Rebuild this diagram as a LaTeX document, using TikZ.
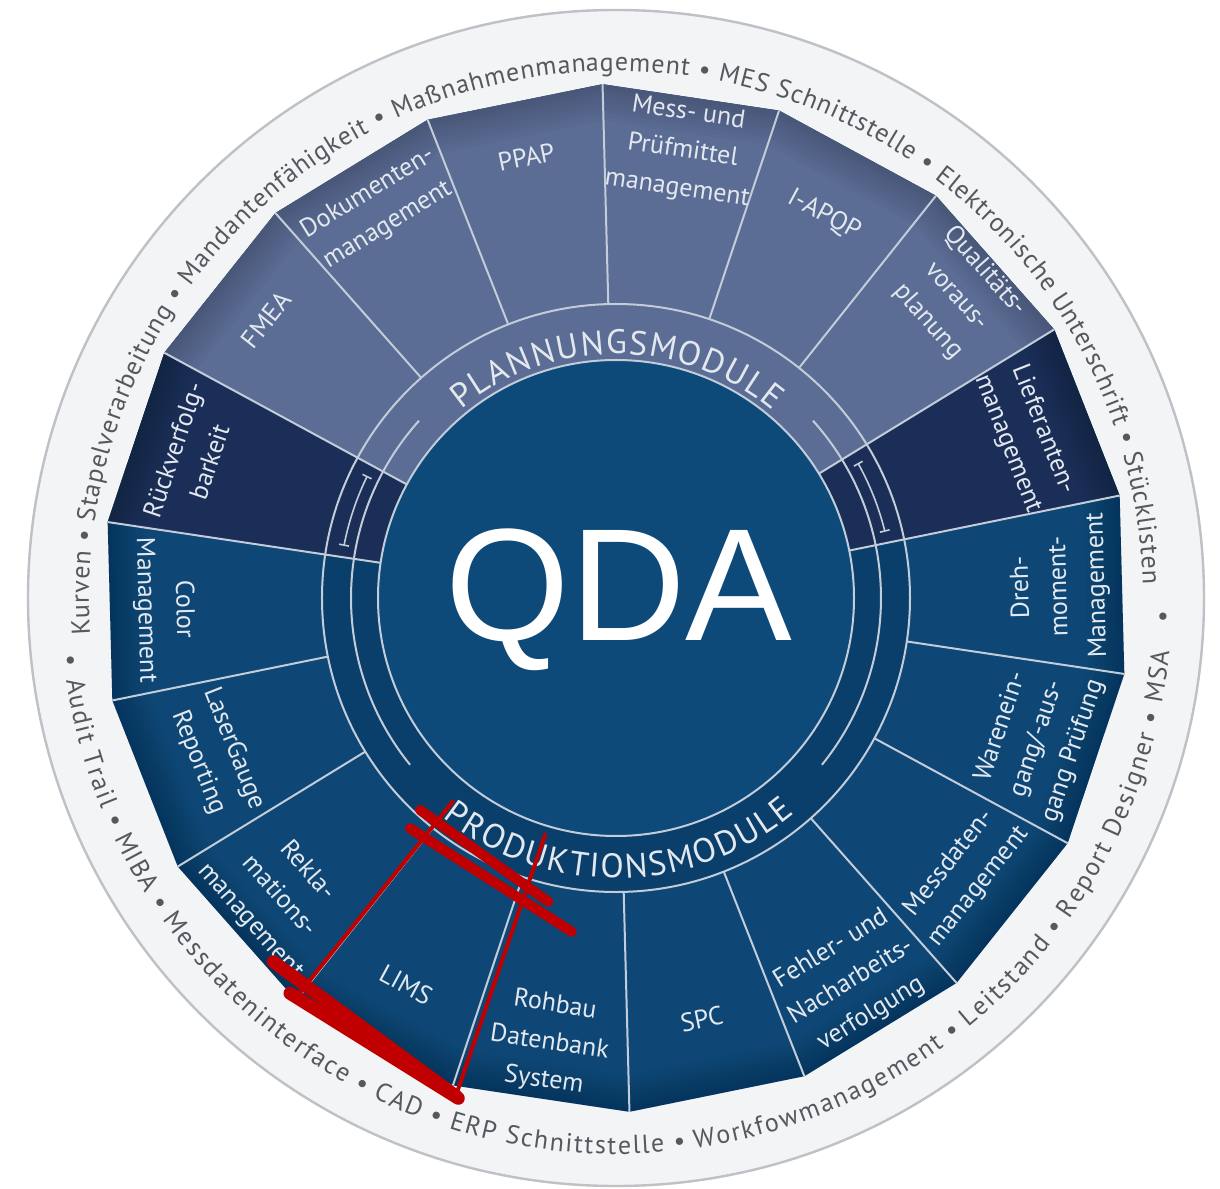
\documentclass[tikz,border=0pt]{standalone}
\usepackage{fontspec}
\setmainfont{PT Sans}
\newfontfamily\qdafont{Liberation Sans}
\usetikzlibrary{decorations.text}
\definecolor{planblue}{HTML}{5B6D94}
\definecolor{navyblue}{HTML}{1B2E57}
\definecolor{prodblue}{HTML}{0E4775}
\definecolor{bandblue}{HTML}{0B3F6B}
\definecolor{coreblue}{HTML}{0D4A79}
\definecolor{linegray}{HTML}{C3CCD9}
\definecolor{labelcol}{HTML}{E3E8EF}
\definecolor{ringtext}{HTML}{55595F}
\definecolor{ringfill}{HTML}{F3F4F6}
\definecolor{ringline}{HTML}{BEC1C6}
\definecolor{markred}{HTML}{C00000}
\newcommand{\labfont}{\fontsize{13}{19}\selectfont}
\newcommand{\ringfont}{\fontsize{13}{15}\selectfont}
\newcommand{\modfont}{\fontsize{17}{19}\selectfont}
\newcommand{\rb}{\hspace{4pt}•\hspace{4pt}}
\begin{document}
\begin{tikzpicture}[x=0.5pt,y=0.5pt,
  seglabel/.style={text=labelcol, font=\labfont, align=center, inner sep=0pt},
  sepline/.style={draw=linegray, line width=1pt},
  ringdot/.style={text=ringtext, font=\ringfont, inner sep=0pt},
  redthin/.style={draw=markred, line cap=round, line width=2pt},
  redthick/.style={draw=markred, line cap=round, line width=5pt},
  redheavy/.style={draw=markred, line cap=round, line width=6.5pt}]
\useasboundingbox (-616,-590) rectangle (604,598);
\fill[white] (-616,-590) rectangle (604,598);
% outer ring
\fill[ringfill] (0,0) circle[radius=589];
\draw[ringline, line width=1.2pt] (0,0) circle[radius=588];
% segments
\fill[prodblue] (11.5:514) \foreach \k in {1,...,17} { -- ({11.5+20*\k}:514) } -- cycle;
\fill[planblue] (0,0) -- (31.5:514) -- (51.5:514) -- (71.5:514) -- (91.5:514) -- (111.5:514) -- (131.5:514) -- (151.5:514) -- cycle;
\fill[navyblue] (0,0) -- (11.5:514) -- (31.5:514) -- cycle;
\fill[navyblue] (0,0) -- (151.5:514) -- (171.5:514) -- cycle;
% soft inner edge shading of the polygon
\begin{scope}
\clip (11.5:514) \foreach \k in {1,...,17} { -- ({11.5+20*\k}:514) } -- cycle;
\foreach \w in {36,32,...,4} {
  \draw[black, opacity=0.018, line width=\w pt, line join=round] (11.5:514) \foreach \k in {1,...,17} { -- ({11.5+20*\k}:514) } -- cycle;
}
\end{scope}
% production band
\fill[bandblue] (171.5:238) -- (171.5:294) arc[start angle=171.5, end angle=371.5, radius=294] -- (11.5:238) arc[start angle=11.5, end angle=-188.5, radius=238] -- cycle;
% boundary lines
\foreach \a in {11.5,31.5,...,351.5} { \draw[sepline] (\a:294) -- (\a:514); }
\foreach \a in {11.5,31.5,151.5,171.5} { \draw[sepline] (\a:238) -- (\a:294); }
\draw[sepline] (0,0) circle[radius=294];
% core
\fill[coreblue] (0,0) circle[radius=238];
\draw[sepline] (0,0) circle[radius=238];
% inner arcs
\draw[sepline] (42:265) arc[start angle=42, end angle=-39, radius=265];
\draw[sepline] (138:265) arc[start angle=138, end angle=219, radius=265];
% I-beams
\draw[sepline, line width=0.8pt] (14:277) arc[start angle=14, end angle=29, radius=277];
\draw[sepline, line width=0.8pt] (14:272) -- (14:282);
\draw[sepline, line width=0.8pt] (29:272) -- (29:282);
\draw[sepline, line width=0.8pt] (154:277) arc[start angle=154, end angle=169, radius=277];
\draw[sepline, line width=0.8pt] (154:272) -- (154:282);
\draw[sepline, line width=0.8pt] (169:272) -- (169:282);
% module texts
\path[decorate, decoration={text along path, text={|\modfont|PLANNUNGSMODULE}, text color=labelcol, text align={fit to path}}] (129.4:244) arc[start angle=129.4, end angle=50.1, radius=244];
\path[decorate, decoration={text along path, text={|\modfont|PRODUKTIONSMODULE}, text color=labelcol, text align={fit to path}}] (231.7:280) arc[start angle=231.7, end angle=309.7, radius=280];
% QDA
\node[text=white, font={\qdafont\fontsize{80}{80}\selectfont}, anchor=base, inner sep=0pt] (qda) at (3,-43) {QDA};
% ring texts
\path[decorate, decoration={text along path, text={|\ringfont|Kurven{\rb}Stapelverarbeitung{\rb}Mandantenfähigkeit{\rb}Maßnahmenmanagement{\rb}MES Schnittstelle{\rb}Elektronische Unterschrift{\rb}Stücklisten}, text color=ringtext, text align={fit to path}}] (184:527) arc[start angle=184, end angle=1.5, radius=527];
\path[decorate, decoration={text along path, text={|\ringfont|Audit Trail{\rb}MIBA{\rb}Messdateninterface{\rb}CAD{\rb}ERP Schnittstelle{\rb}Workfowmanagement{\rb}Leitstand{\rb}Report Designer{\rb}MSA}, text color=ringtext, text align={fit to path}}] (188.5:556) arc[start angle=188.5, end angle=354.4, radius=556];
\node[ringdot, rotate=-92] (dotr) at (-2:545) {•};
\node[ringdot, rotate=96.5] (dotl) at (186.5:547) {•};
% segment labels
\node[seglabel, rotate=-68.5] (lief) at (21.5:440) {Lieferanten-\\management};
\node[seglabel, rotate=-48.5] (qual) at (41.5:455) {Qualitäts-\\voraus-\\planung};
\node[seglabel, rotate=-28.5] (iapqp) at (61.5:436) {I-APQP};
\node[seglabel, rotate=-8.5] (mess) at (81.5:452) {Mess- und\\Prüfmittel\\management};
\node[seglabel, rotate=11.5] (ppap) at (101.5:450) {PPAP};
\node[seglabel, rotate=31.5] (doku) at (121.5:456) {Dokumenten-\\management};
\node[seglabel, rotate=51.5] (fmea) at (141.5:447) {FMEA};
\node[seglabel, rotate=71.5] (rueck) at (161.5:448) {Rückverfolg-\\barkeit};
\node[seglabel, rotate=-88.5] (color) at (181.5:452) {Color\\Management};
\node[seglabel, rotate=-68.5] (laser) at (201.5:430) {LaserGauge\\Reporting};
\node[seglabel, rotate=-48.5] (rekla) at (221.5:450) {Rekla-\\mations-\\management};
\node[seglabel, rotate=-28.5] (lims) at (241.5:440) {LIMS};
\node[seglabel, rotate=-8.5] (rohbau) at (261.5:450) {Rohbau\\Datenbank\\System};
\node[seglabel, rotate=11.5] (spc) at (281.5:430) {SPC};
\node[seglabel, rotate=31.5] (fehler) at (301.5:450) {Fehler- und\\Nacharbeits-\\verfolgung};
\node[seglabel, rotate=51.5] (messd) at (321.5:445) {Messdaten-\\management};
\node[seglabel, rotate=71.5] (waren) at (341.5:444) {Warenein-\\gang/-aus-\\gang Prüfung};
\node[seglabel, rotate=91.5] (dreh) at (1.5:444) {Dreh-\\moment-\\Management};
% red marks
\coordinate (ra1) at (-163.3,-203.7); \coordinate (ra2) at (-315.3,-393.7);
\coordinate (rb1) at (-71,-237);      \coordinate (rb2) at (-161,-500.3);
\coordinate (rc1) at (-196,-212);     \coordinate (rc2) at (-67.7,-303.7);
\coordinate (rd1) at (-206,-230.3);   \coordinate (rd2) at (-44.3,-333.7);
\coordinate (re1) at (-342.7,-363.7); \coordinate (re2) at (-159.3,-498.7);
\coordinate (rf1) at (-326,-395.3);   \coordinate (rf2) at (-157.7,-500.3);
\draw[redthin] (ra1) -- (ra2);
\draw[redthin] (rb1) -- (rb2);
\draw[redthick] (rc1) -- (rc2);
\draw[redthick] (rd1) -- (rd2);
\draw[redheavy] (re1) -- (re2);
\draw[redheavy] (rf1) -- (rf2);
\end{tikzpicture}
\end{document}
